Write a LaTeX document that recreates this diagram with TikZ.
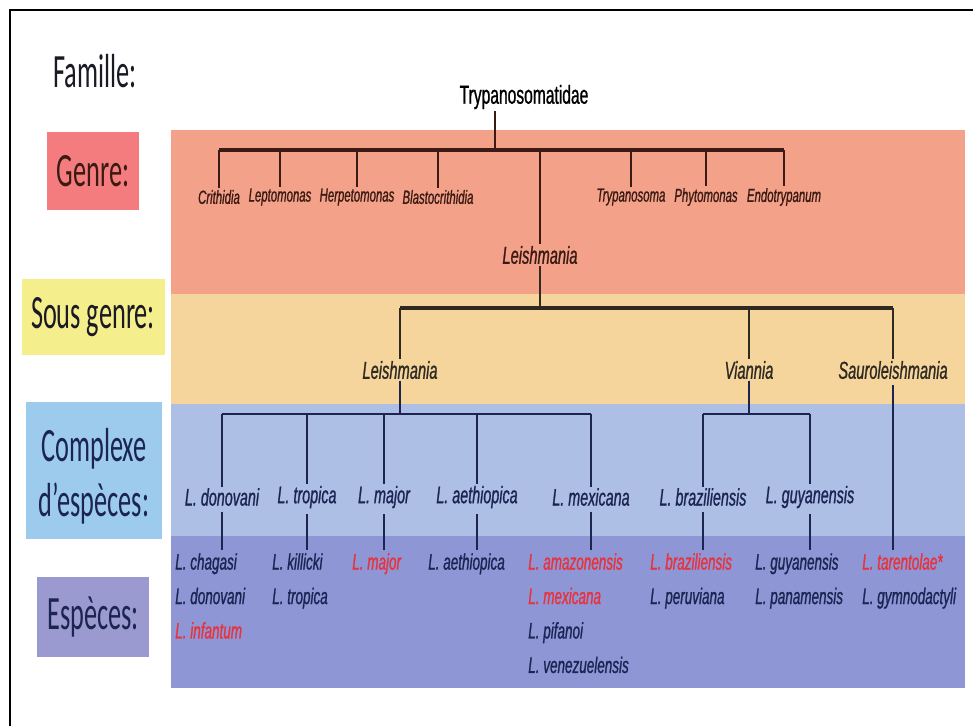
\documentclass[tikz,border=0pt]{standalone}
\usepackage{fontspec}
\setmainfont{Liberation Sans}
\newfontfamily\treefont[FakeStretch=0.6,FakeBold=0.9]{Liberation Sans}
\newfontfamily\rankfont[FakeStretch=0.55]{Carlito}

\definecolor{genreband}{HTML}{F3A189}
\definecolor{sgband}{HTML}{F5D59C}
\definecolor{cxband}{HTML}{AEBFE6}
\definecolor{espband}{HTML}{8E96D6}
\definecolor{genrebox}{HTML}{F47C7E}
\definecolor{sgbox}{HTML}{F5EE8C}
\definecolor{cxbox}{HTML}{9DCBEE}
\definecolor{espbox}{HTML}{9A9AD0}
\definecolor{genreink}{HTML}{3A1A12}
\definecolor{sgink}{HTML}{2E2A22}
\definecolor{cxink}{HTML}{1C2452}
\definecolor{spred}{HTML}{E8323C}
\definecolor{rankink}{HTML}{1A1A24}

\tikzset{
  rank/.style={font=\rankfont\fontsize{34}{39}\selectfont,text=rankink,inner sep=0pt,align=center},
  fam/.style={font=\treefont\fontsize{18.5}{20}\selectfont,inner sep=1pt},
  genus/.style={font=\treefont\itshape\fontsize{13.5}{15}\selectfont,text=genreink,inner sep=1pt},
  subgen/.style={font=\treefont\itshape\fontsize{17.4}{19}\selectfont,text=sgink,inner sep=1pt},
  cplx/.style={font=\treefont\itshape\fontsize{17}{19}\selectfont,text=cxink,inner sep=1pt},
  spec/.style={font=\treefont\itshape\fontsize{16}{24.5}\selectfont,text=cxink,inner sep=0pt,align=left,anchor=north west},
  gline/.style={draw=genreink,line width=1.7pt},
  gbarline/.style={draw=genreink,line width=2.4pt},
  sline/.style={draw=sgink,line width=1.7pt},
  sbarline/.style={draw=sgink,line width=2.4pt},
  cline/.style={draw=cxink,line width=1.4pt},
  cbarline/.style={draw=cxink,line width=2pt}
}

\begin{document}
\begin{tikzpicture}[x=0.25mm,y=-0.25mm]
\useasboundingbox (0,0) rectangle (973,726);
% frame
\draw[line width=1.1pt] (10,726) -- (10,10) -- (973,10);

% bands
\fill[genreband] (171,130) rectangle (965,294);
\fill[sgband] (171,294) rectangle (965,404);
\fill[cxband] (171,404) rectangle (965,536);
\fill[espband] (171,536) rectangle (965,688);

% rank labels
\node[rank] (famille) at (95,71) {Famille:};
\fill[genrebox] (47,132) rectangle (139,210);
\node[rank,text=genreink] (genre) at (93,171) {Genre:};
\fill[sgbox] (22,279) rectangle (165,355);
\node[rank] (sousgenre) at (93,317) {Sous genre:};
\fill[cxbox] (26,402) rectangle (162,539);
\node[rank,text=cxink] (complexe) at (94,476) {Complexe\\d’espèces:};
\fill[espbox] (37,577) rectangle (149,657);
\node[rank,text=cxink] (especes) at (93,617) {Espèces:};

% famille and genres
\node[fam] (tryp) at (524,97) {Trypanosomatidae};
\coordinate (gbar) at (495,150);
\node[genus] (crith) at (219,197) {Crithidia};
\node[genus] (lepto) at (280,197) {Leptomonas};
\node[genus] (herpe) at (357,197) {Herpetomonas};
\node[genus] (blasto) at (438,197) {Blastocrithidia};
\node[genus] (trypa) at (631,197) {Trypanosoma};
\node[genus] (phyto) at (706,197) {Phytomonas};
\node[genus] (endo) at (784,197) {Endotrypanum};
\node[subgen,text=genreink] (leish) at (540,255) {Leishmania};

\draw[gline] (gbar |- tryp.south) -- (gbar);
\draw[gbarline] (crith.north |- gbar) -- (endo.north |- gbar);
\foreach \g in {crith,lepto,herpe,blasto,trypa,phyto,endo,leish}
  \draw[gline] (\g.north |- gbar) -- (\g.north);

% sous-genres
\node[subgen] (sgleish) at (400,370) {Leishmania};
\node[subgen] (vian) at (749,370) {Viannia};
\node[subgen] (sauro) at (893,370) {Sauroleishmania};
\coordinate (sbar) at (540,308);
\draw[sline] (leish.south) -- (sbar);
\draw[sbarline] (sgleish.north |- sbar) -- (sauro.north |- sbar);
\foreach \s in {sgleish,vian,sauro}
  \draw[sline] (\s.north |- sbar) -- (\s.north);

% complexes
\node[cplx] (cdon) at (222,497) {L. donovani};
\node[cplx] (ctro) at (307,497) {L. tropica};
\node[cplx] (cmaj) at (384,497) {L. major};
\node[cplx] (caet) at (477,497) {L. aethiopica};
\node[cplx] (cmex) at (591,497) {L. mexicana};
\node[cplx] (cbra) at (703,497) {L. braziliensis};
\node[cplx] (cguy) at (810,497) {L. guyanensis};
\coordinate (cbar) at (400,414);
\coordinate (vbar) at (749,414);
\draw[cline] (sgleish.south) -- (cbar);
\draw[cline] (vian.south) -- (vbar);
\draw[cbarline] (cdon.north |- cbar) -- (cmex.north |- cbar);
\draw[cbarline] (cbra.north |- vbar) -- (cguy.north |- vbar);
\foreach \c in {cdon,ctro,cmaj,caet,cmex}
  \draw[cline] (\c.north |- cbar) -- (\c.north);
\foreach \c in {cbra,cguy}
  \draw[cline] (\c.north |- vbar) -- (\c.north);

% especes
\node[spec] (sp1) at (175,553) {L. chagasi\\L. donovani\\\textcolor{spred}{L. infantum}};
\node[spec] (sp2) at (272,553) {L. killicki\\L. tropica};
\node[spec,text=spred] (sp3) at (352,553) {L. major};
\node[spec] (sp4) at (428,553) {L. aethiopica};
\node[spec] (sp5) at (528,553) {\textcolor{spred}{L. amazonensis}\\\textcolor{spred}{L. mexicana}\\L. pifanoi\\L. venezuelensis};
\node[spec] (sp6) at (650,553) {\textcolor{spred}{L. braziliensis}\\L. peruviana};
\node[spec] (sp7) at (755,553) {L. guyanensis\\L. panamensis};
\node[spec] (sp8) at (862,553) {\textcolor{spred}{L. tarentolae*}\\L. gymnodactyli};

\draw[cline,shorten <=3pt,shorten >=2pt] (cdon.south) -- (cdon.south |- sp1.north);
\draw[cline,shorten <=3pt,shorten >=2pt] (ctro.south) -- (ctro.south |- sp2.north);
\draw[cline,shorten <=3pt,shorten >=2pt] (cmaj.south) -- (cmaj.south |- sp3.north);
\draw[cline,shorten <=3pt,shorten >=2pt] (caet.south) -- (caet.south |- sp4.north);
\draw[cline,shorten <=3pt,shorten >=2pt] (cmex.south) -- (cmex.south |- sp5.north);
\draw[cline,shorten <=3pt,shorten >=2pt] (cbra.south) -- (cbra.south |- sp6.north);
\draw[cline,shorten <=3pt,shorten >=2pt] (cguy.south) -- (cguy.south |- sp7.north);
\draw[cline,shorten <=3pt,shorten >=2pt] (sauro.south) -- (sauro.south |- sp8.north);
\end{tikzpicture}
\end{document}
